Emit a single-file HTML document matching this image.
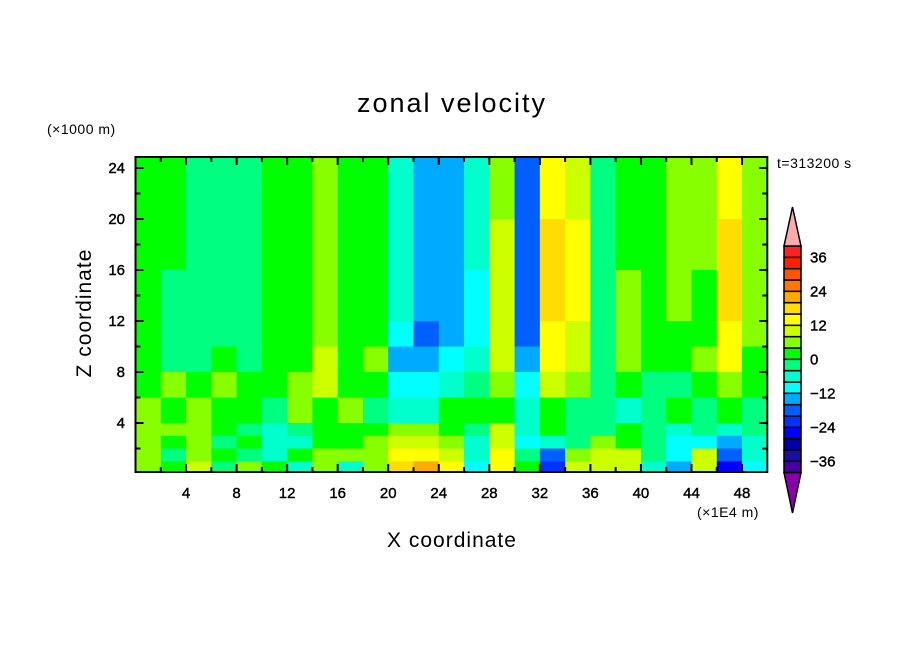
<!DOCTYPE html>
<html><head><meta charset="utf-8"><style>
body{margin:0;background:#fff;}
svg text{font-family:"Liberation Sans",sans-serif;fill:#000;}
</style></head><body>
<svg id="chart" width="904" height="654" viewBox="0 0 904 654" xmlns="http://www.w3.org/2000/svg">
<rect width="904" height="654" fill="#fff"/>
<g id="field"></g>
<g id="axes"></g>
<g id="cbar"></g>
<text x="452" y="112" font-size="27" text-anchor="middle" letter-spacing="2">zonal velocity</text>
<text x="47" y="134" font-size="14" letter-spacing="0.5">(×1000 m)</text>
<text x="777" y="168" font-size="14" letter-spacing="0.5">t=313200 s</text>
<text x="0" y="0" font-size="21" text-anchor="middle" letter-spacing="1" transform="translate(91,313) rotate(-90)">Z coordinate</text>
<text x="452" y="547" font-size="21" text-anchor="middle" letter-spacing="1">X coordinate</text>
<text x="697" y="517" font-size="14" letter-spacing="0.5">(×1E4 m)</text>
</svg>
<script>
const xEdges=[0,2,4,6,8,10,12,14,16,18,20,22,24,26,28,30,32,34,36,38,40,42,44,46,48,50];
const zEdges=[25,20,16,12,10,8,6,4,3,2,1,0];
const row0=[2,2,-2,-2,-2,2,2,6,2,2,-6,-14,-14,-6,6,-18,12,10,-2,2,2,6,6,14,6];
const row1=[2,2,-2,-2,-2,2,2,6,2,2,-6,-14,-14,-6,10,-18,16,12,-2,2,2,6,6,16,6];
const row2=[0,-2,-2,-2,-2,2,2,6,2,2,-6,-14,-14,-10,10,-18,18,12,-2,6,2,6,2,18,6];
const row3=[0,-2,-2,-2,-2,2,2,6,2,2,-10,-18,-14,-10,10,-18,14,10,-2,6,2,2,2,14,6];
const row4=[2,-2,-2,2,-2,2,2,10,2,6,-14,-14,-10,-6,10,-14,14,10,-2,6,2,2,6,14,2];
const row5=[2,6,2,6,2,2,6,10,2,2,-10,-10,-6,-2,6,-10,10,6,-2,2,-2,-2,2,6,2];
const row6=[6,2,6,2,2,-2,6,2,6,-2,-6,-6,2,2,2,-6,2,-2,-2,-6,-2,2,-2,2,-2];
const row7=[6,6,6,2,-2,-6,-2,2,2,2,6,6,2,-2,10,-6,2,-2,-2,2,-2,-6,-2,-6,-2];
const row8=[6,2,6,-2,2,-6,-6,2,2,6,10,10,6,-6,10,-10,-6,-2,6,2,-2,-10,-10,-14,-6];
const row9=[6,-2,6,2,-2,-6,2,6,6,6,14,14,10,-6,14,-2,-18,6,10,10,-2,-10,10,-18,-6];
const row10=[6,2,10,-2,6,2,-6,6,-6,6,18,22,14,-10,14,2,-22,10,10,10,-6,-14,10,-26,-10];
const rows=[row0,row1,row2,row3,row4,row5,row6,row7,row8,row9,row10];
const levels=[-40,-36,-32,-28,-24,-20,-16,-12,-8,-4,0,4,8,12,16,20,24,28,32,36,40];
const colors=["#8a00aa","#4400a0","#1a10a0","#0000aa","#0000ff","#0033ff","#0060ff","#00aaff","#00ffff","#00ffcc","#00ff80","#00ff00","#88ff00","#ccff00","#ffff00","#ffdd00","#ffaa00","#ff7700","#ff5500","#ff2000","#ff2020","#ffaaaa"];
const xTicks=[4,8,12,16,20,24,28,32,36,40,44,48];
const zTicks=[4,8,12,16,20,24];
const cbLabels=[36,24,12,0,-12,-24,-36];
const NS="http://www.w3.org/2000/svg";
const X0=135.5,X1=767.3,Y0=474,YU=12.75;
const PT=157,PB=472;
function sx(x){return X0+(x-0)*(X1-X0)/50;}
function sy(z){return Y0-z*YU;}
function colorFor(v){let i=0;while(i<levels.length&&v>=levels[i])i++;return colors[i];}
function mk(tag,attrs,parent){const e=document.createElementNS(NS,tag);for(const k in attrs)e.setAttribute(k,attrs[k]);parent.appendChild(e);return e;}
const field=document.getElementById('field');
rows.forEach((r,ri)=>{r.forEach((v,ci)=>{
  const y1=Math.max(PT,sy(zEdges[ri])),y2=Math.min(PB,sy(zEdges[ri+1]));
  const e=mk('rect',{x:sx(xEdges[ci]),y:y1,width:sx(xEdges[ci+1])-sx(xEdges[ci])+0.5,height:y2-y1+0.5,fill:colorFor(v)},field);
  
  
});});
const axes=document.getElementById('axes');
const fr=mk('rect',{x:X0,y:PT,width:X1-X0,height:PB-PT,fill:'none',stroke:'#000','stroke-width':2},axes);


for(let x=2;x<50;x+=2){const L=x%4===0?8:5;
  mk('line',{x1:sx(x),x2:sx(x),y1:PB,y2:PB-L,stroke:'#000','stroke-width':2},axes);
  mk('line',{x1:sx(x),x2:sx(x),y1:PT,y2:PT+L,stroke:'#000','stroke-width':2},axes);}
for(let z=2;z<25;z+=2){const L=z%4===0?8:5;
  mk('line',{x1:X0,x2:X0+L,y1:sy(z),y2:sy(z),stroke:'#000','stroke-width':2},axes);
  mk('line',{x1:X1,x2:X1-L,y1:sy(z),y2:sy(z),stroke:'#000','stroke-width':2},axes);}
xTicks.forEach(x=>{const t=mk('text',{x:sx(x),y:498,'font-size':15,'text-anchor':'middle',stroke:'#000','stroke-width':0.4},axes);t.textContent=x;
  
  });
zTicks.forEach(z=>{const t=mk('text',{x:125,y:sy(z)+5,'font-size':15,'text-anchor':'end',stroke:'#000','stroke-width':0.4},axes);t.textContent=z;
  
  });
const cb=document.getElementById('cbar');
const CX=784,CW=17,CT=246,BH=11.33;
const nb=levels.length-1;
for(let i=0;i<nb;i++){const y=CT+(nb-1-i)*BH;
  const b=mk('rect',{x:CX,y:y,width:CW,height:BH,fill:colors[i+1],stroke:'#000','stroke-width':1.5},cb);
  
  }
const CB=CT+nb*BH;
mk('polygon',{points:`${CX},${CT} ${CX+CW},${CT} ${CX+CW/2},207`,fill:colors[colors.length-1],stroke:'#000','stroke-width':1.5},cb);
mk('polygon',{points:`${CX},${CB} ${CX+CW},${CB} ${CX+CW/2},513`,fill:colors[0],stroke:'#000','stroke-width':1.5},cb);
cbLabels.forEach(v=>{const y=CT+(40-v)/4*BH;
  const t=mk('text',{x:810,y:y+5,'font-size':15,stroke:'#000','stroke-width':0.4},cb);t.textContent=v<0?'\u2212'+(-v):v;
  
  });
</script>
</body></html>
